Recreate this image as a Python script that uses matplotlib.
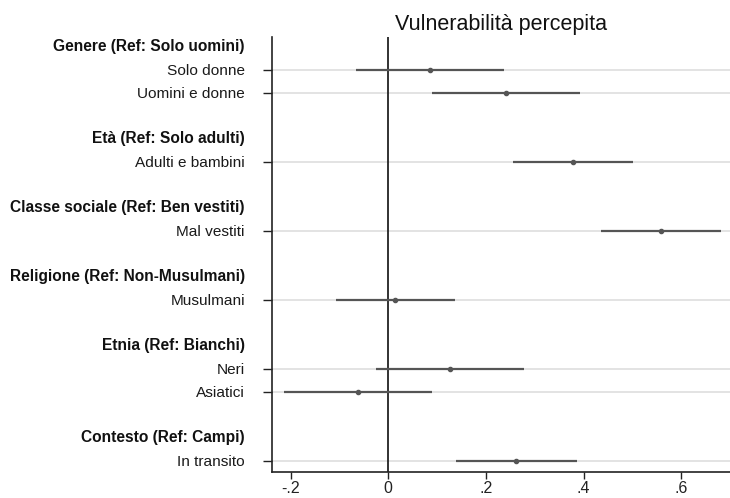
import matplotlib.pyplot as plt
import matplotlib.ticker as mticker

plt.rcParams['font.family'] = ['Liberation Sans', 'DejaVu Sans']

# reference-category headers and the estimates listed under each
groups = [
    'Genere (Ref: Solo uomini)',
    'Età (Ref: Solo adulti)',
    'Classe sociale (Ref: Ben vestiti)',
    'Religione (Ref: Non-Musulmani)',
    'Etnia (Ref: Bianchi)',
    'Contesto (Ref: Campi)',
]
group_items = [
    ['Solo donne', 'Uomini e donne'],
    ['Adulti e bambini'],
    ['Mal vestiti'],
    ['Musulmani'],
    ['Neri', 'Asiatici'],
    ['In transito'],
]
coef = [0.086, 0.241, 0.378, 0.559, 0.014, 0.126, -0.062, 0.262]
ci_low = [-0.065, 0.089, 0.255, 0.436, -0.107, -0.025, -0.213, 0.138]
ci_high = [0.237, 0.392, 0.501, 0.682, 0.137, 0.278, 0.089, 0.386]
xticks = [-0.2, 0, 0.2, 0.4, 0.6]
xticklabels = ['-.2', '0', '.2', '.4', '.6']

# work out row positions: header, items, blank row between groups
header_pos, item_pos, item_labels = [], [], []
row = 0
for g, items in zip(groups, group_items):
    header_pos.append(row)
    row += 1
    for it in items:
        item_pos.append(row)
        item_labels.append(it)
        row += 1
    row += 1

fig = plt.figure(figsize=(7.3, 4.98), dpi=100)
ax = fig.add_axes([0.3726, 0.0528, 0.6274, 0.8729])

for y in item_pos:
    ax.axhline(y, color='#e3e3e3', lw=1.4, zorder=0)
ax.axvline(0, color='#222222', lw=1.3, zorder=1)

ax.hlines(item_pos, ci_low, ci_high, color='#555555', lw=1.6, zorder=2)
ax.plot(coef, item_pos, 'o', color='#555555', ms=3, zorder=3)

ax.set_xlim(-0.238, 0.70)
ax.set_ylim(18.47, -0.43)

ax.set_yticks(item_pos)
ax.set_yticklabels(item_labels, fontsize=11.1)
ax.tick_params(axis='y', length=6.5, width=1, pad=13, colors='#222222')
ax.tick_params(axis='y', labelcolor='#1a1a1a')

for g, y in zip(groups, header_pos):
    ax.annotate(g, xy=(0, y), xycoords=('axes fraction', 'data'),
                xytext=(-19.5, 0), textcoords='offset points',
                ha='right', va='center', fontsize=11.2, fontweight='bold',
                color='#111111')

ax.xaxis.set_major_locator(mticker.FixedLocator(xticks))
ax.set_xticklabels(xticklabels, fontsize=11.5)
ax.tick_params(axis='x', length=5, width=1, pad=2, colors='#222222')

for s in ['top', 'right']:
    ax.spines[s].set_visible(False)
for s in ['left', 'bottom']:
    ax.spines[s].set_color('#222222')
    ax.spines[s].set_linewidth(1.2)

ax.set_title('Vulnerabilità percepita', fontsize=15.5, pad=5, color='#111111')

fig.savefig('out.png', dpi=100)
